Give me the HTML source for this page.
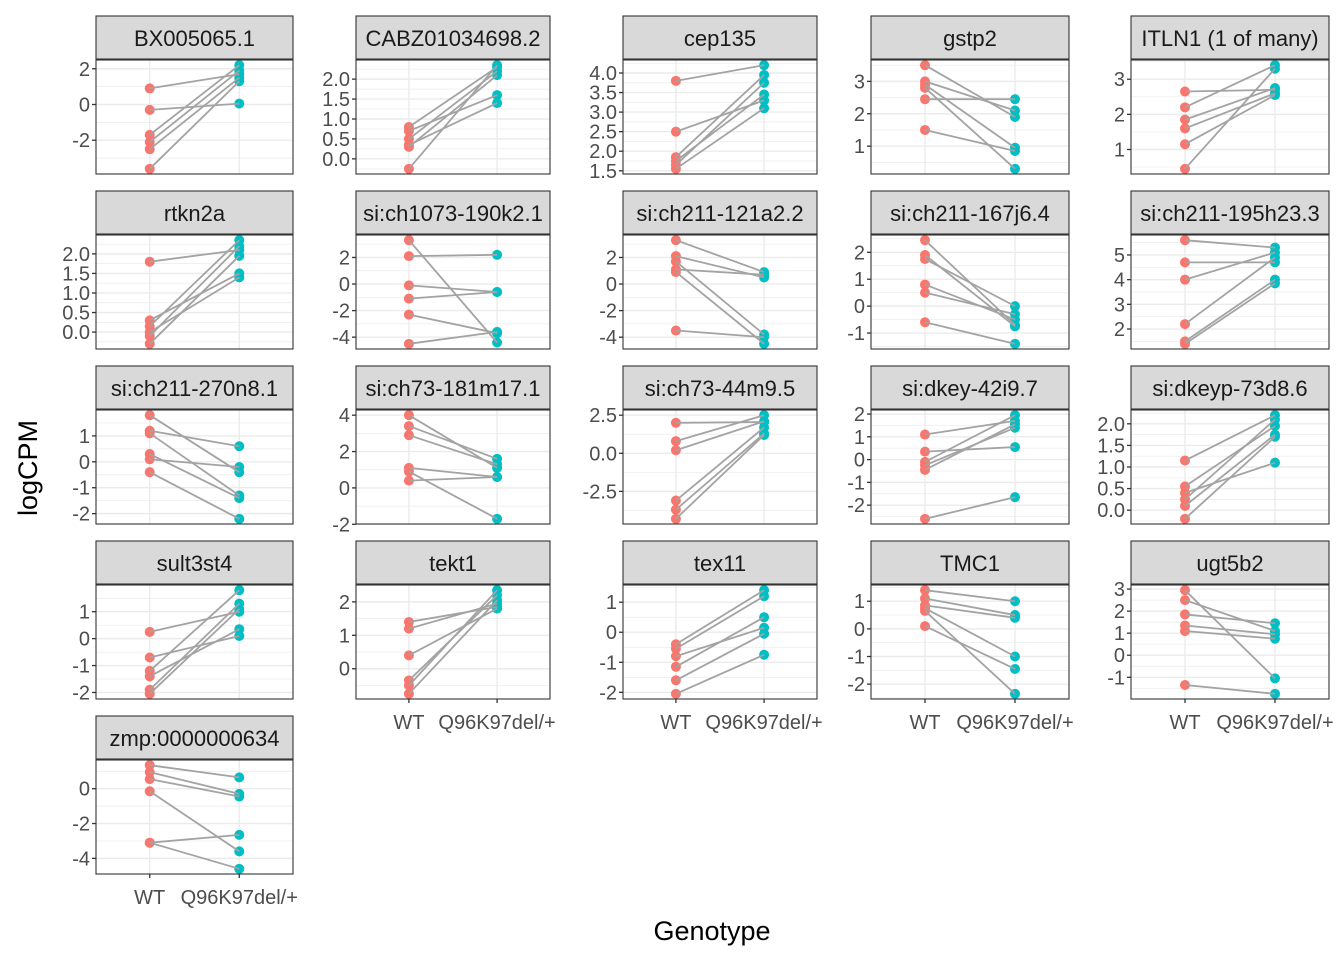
<!DOCTYPE html>
<html><head><meta charset="utf-8"><style>
html,body{margin:0;padding:0;background:#fff;}
svg{display:block;font-family:"Liberation Sans",Arial,sans-serif;}
</style></head><body>
<svg id="chart" width="1344" height="960" viewBox="0 0 1344 960" xmlns="http://www.w3.org/2000/svg">
<rect width="1344" height="960" fill="#fff"/>
<text x="0" y="0" transform="translate(37,468) rotate(-90)" text-anchor="middle" font-size="27" fill="#000">logCPM</text>
<text x="712" y="940" text-anchor="middle" font-size="27" fill="#000">Genotype</text>
</svg>
<script>
const genes = ["BX005065.1","CABZ01034698.2","cep135","gstp2","ITLN1 (1 of many)","rtkn2a","si:ch1073-190k2.1","si:ch211-121a2.2","si:ch211-167j6.4","si:ch211-195h23.3","si:ch211-270n8.1","si:ch73-181m17.1","si:ch73-44m9.5","si:dkey-42i9.7","si:dkeyp-73d8.6","sult3st4","tekt1","tex11","TMC1","ugt5b2","zmp:0000000634"];
const genotypes = ["WT","Q96K97del/+"];
const wtValues = [
 [0.9,-0.3,-1.7,-2.1,-2.5,-3.6],
 [0.8,0.7,0.5,0.35,0.3,-0.25],
 [3.8,2.5,1.85,1.75,1.65,1.55],
 [3.5,3.0,2.8,2.45,1.5,2.9],
 [2.65,2.2,1.85,1.6,1.15,0.45],
 [1.8,0.3,0.15,0.0,-0.1,-0.3],
 [3.3,2.1,-0.1,-1.1,-2.3,-4.5],
 [3.3,2.1,1.7,1.1,0.9,-3.5],
 [2.45,1.9,1.75,0.8,0.5,-0.6],
 [5.6,4.7,4.0,2.2,1.5,1.4],
 [1.8,1.2,1.1,0.3,0.1,-0.4],
 [4.0,3.4,2.9,1.1,0.9,0.4],
 [2.0,0.8,0.2,-3.1,-3.7,-4.3],
 [1.1,0.35,-0.1,-0.25,-0.45,-2.6],
 [1.15,0.55,0.4,0.25,0.1,-0.2],
 [0.25,-0.7,-1.2,-1.4,-1.9,-2.05],
 [1.4,1.2,0.4,-0.35,-0.5,-0.75],
 [-0.4,-0.55,-0.8,-1.15,-1.6,-2.05],
 [1.4,1.1,0.85,0.75,0.65,0.1],
 [2.95,2.5,1.85,1.35,1.1,-1.35],
 [1.35,0.95,0.55,-0.15,-3.1,-3.1]
];
const mutValues = [
 [1.7,0.05,2.2,1.9,1.5,1.3],
 [2.3,1.6,2.2,1.4,2.1,2.35],
 [4.2,3.3,3.95,3.45,3.75,3.1],
 [1.9,2.1,0.3,2.45,0.85,0.95],
 [2.7,3.4,2.75,2.6,2.55,3.3],
 [2.1,1.5,2.35,1.4,2.2,1.95],
 [-4.4,2.2,-0.6,-0.6,-3.7,-3.6],
 [0.9,0.5,-3.8,0.7,-4.5,-4.0],
 [-0.7,-0.75,0.0,-0.5,-0.3,-1.4],
 [5.3,4.7,5.1,4.9,4.0,3.85],
 [-0.4,0.6,-1.3,-1.4,-0.2,-2.2],
 [1.1,1.6,1.3,0.6,-1.7,0.6],
 [2.05,2.5,2.1,1.7,1.3,1.2],
 [1.7,0.55,1.95,1.4,1.55,-1.65],
 [2.2,1.95,1.1,2.1,1.75,1.7],
 [1.0,0.1,1.8,0.35,1.3,1.1],
 [1.85,1.95,1.8,2.2,2.35,2.05],
 [1.4,1.2,0.15,0.5,-0.05,-0.75],
 [1.0,0.5,0.4,-1.0,-2.35,-1.45],
 [-1.05,1.1,1.45,0.95,0.75,-1.75],
 [0.65,-0.3,-0.45,-3.6,-2.65,-4.6]
];
const tickLabels = [
 ["-2","0","2"],
 ["0.0","0.5","1.0","1.5","2.0"],
 ["1.5","2.0","2.5","3.0","3.5","4.0"],
 ["1","2","3"],
 ["1","2","3"],
 ["0.0","0.5","1.0","1.5","2.0"],
 ["-4","-2","0","2"],
 ["-4","-2","0","2"],
 ["-1","0","1","2"],
 ["2","3","4","5"],
 ["-2","-1","0","1"],
 ["-2","0","2","4"],
 ["-2.5","0.0","2.5"],
 ["-2","-1","0","1","2"],
 ["0.0","0.5","1.0","1.5","2.0"],
 ["-2","-1","0","1"],
 ["0","1","2"],
 ["-2","-1","0","1"],
 ["-2","-1","0","1"],
 ["-1","0","1","2","3"],
 ["-4","-2","0"]
];
const NS="http://www.w3.org/2000/svg";
const svg=document.getElementById("chart");
const colL=[96,356,623,871,1131], colR=[293,550,817,1069,1329];
const rowT=[16,191,366,541,716];
function mk(tag,attrs,parent){const e=document.createElementNS(NS,tag);for(const k in attrs)e.setAttribute(k,attrs[k]);(parent||svg).appendChild(e);return e;}
genes.forEach((g,i)=>{
  const c=i%5,r=Math.floor(i/5);
  const x0=colL[c],x1=colR[c],st=rowT[r],y0=st+44,y1=st+158;
  const grp=mk("g",{});
  
  
  const all=wtValues[i].concat(mutValues[i]);
  const mn=Math.min(...all),mx=Math.max(...all),rg=mx-mn;
  const dmin=mn-0.05*rg,dmax=mx+0.05*rg;
  const ys=v=>y1-(v-dmin)/(dmax-dmin)*(y1-y0);
  const xs=k=>x0+(0.6+k)/2.2*(x1-x0);
  mk("rect",{x:x0,y:y0,width:x1-x0,height:y1-y0,fill:"#fff"},grp);
  const ticks=tickLabels[i].map(parseFloat);
  const step=ticks.length>1?ticks[1]-ticks[0]:1;
  for(let t=ticks[0]-step/2;t<=dmax;t+=step){ if(t>=dmin) mk("line",{x1:x0,x2:x1,y1:ys(t),y2:ys(t),stroke:"#EBEBEB","stroke-width":0.7},grp);}
  ticks.forEach(t=>mk("line",{x1:x0,x2:x1,y1:ys(t),y2:ys(t),stroke:"#EBEBEB","stroke-width":1.4},grp));
  [0,1].forEach(k=>mk("line",{x1:xs(k),x2:xs(k),y1:y0,y2:y1,stroke:"#EBEBEB","stroke-width":1.4},grp));
  wtValues[i].forEach(v=>{const p=mk("circle",{cx:xs(0),cy:ys(v),r:5,fill:"#F8766D"},grp);
    
    });
  mutValues[i].forEach(v=>{const p=mk("circle",{cx:xs(1),cy:ys(v),r:5,fill:"#00BFC4"},grp);
    
    });
  wtValues[i].forEach((v,j)=>{const l=mk("line",{x1:xs(0),y1:ys(v),x2:xs(1),y2:ys(mutValues[i][j]),stroke:"#A3A3A3","stroke-width":1.8},grp);
    
    });
  mk("rect",{x:x0,y:y0,width:x1-x0,height:y1-y0,fill:"none",stroke:"#333","stroke-width":1.1},grp);
  const s=mk("rect",{x:x0,y:st,width:x1-x0,height:43,fill:"#D9D9D9",stroke:"#333","stroke-width":1.1},grp);
  
  
  const stx=mk("text",{x:(x0+x1)/2,y:st+30,"text-anchor":"middle","font-size":"22","textLength":"","fill":"#1A1A1A"},grp);
  stx.removeAttribute("textLength");
  stx.textContent=g;
  
  
  tickLabels[i].forEach((lab,j)=>{const y=ys(ticks[j]);
    mk("line",{x1:x0-4,x2:x0,y1:y,y2:y,stroke:"#333","stroke-width":1.3},grp);
    const t=mk("text",{x:x0-6,y:y+7,"text-anchor":"end","font-size":"20",fill:"#4D4D4D"},grp);
    t.textContent=lab;
    
    });
  const bottom=(r===3&&c>0)||(r===4&&c===0);
  if(bottom){
    genotypes.forEach((gt,k)=>{
      mk("line",{x1:xs(k),x2:xs(k),y1:y1,y2:y1+4,stroke:"#333","stroke-width":1.3},grp);
      const t=mk("text",{x:xs(k),y:y1+30,"text-anchor":"middle","font-size":"20",fill:"#4D4D4D"},grp);
      t.textContent=gt;
      
      
    });
  }
});
</script>
</body></html>
